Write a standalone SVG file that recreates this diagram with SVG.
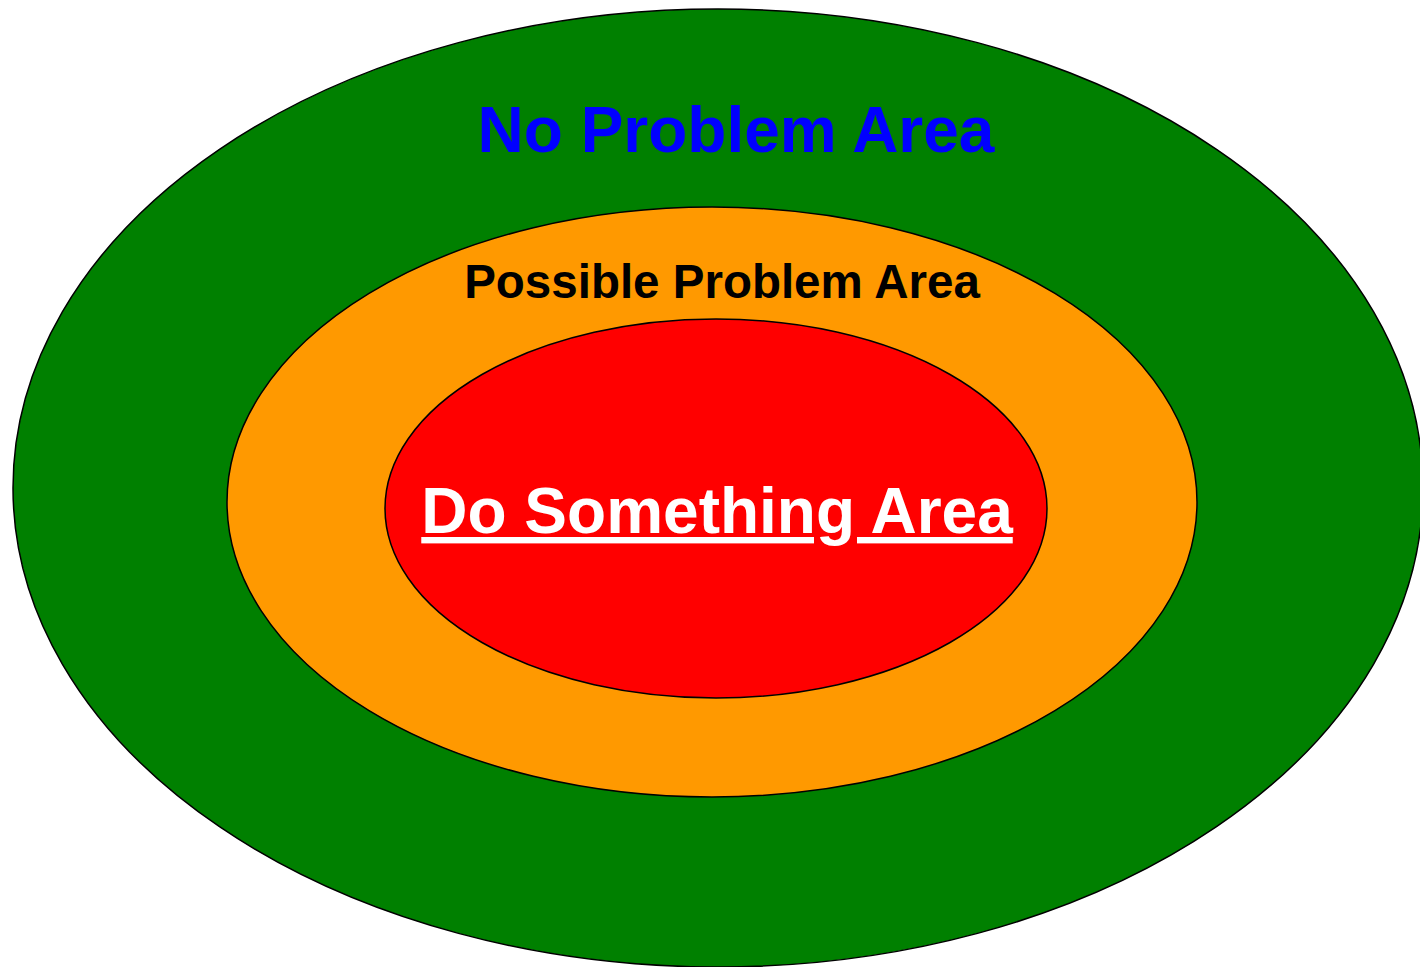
<svg xmlns="http://www.w3.org/2000/svg" width="1420" height="967" viewBox="0 0 1420 967">
<style>
.zone{stroke:#000;stroke-width:1.5}
.lbl{font-family:"Liberation Sans",Arial,sans-serif;font-weight:bold;text-anchor:middle}
</style>
<rect width="1420" height="967" fill="#fff"/>
<g id="no-problem">
<ellipse class="zone" cx="718" cy="488" rx="705" ry="479" fill="#008000"/>
<text class="lbl" x="736" y="152" font-size="64" fill="#0000FF">No Problem Area</text>
</g>
<g id="possible-problem">
<ellipse class="zone" cx="712" cy="502" rx="485" ry="295" fill="#FF9900"/>
<text class="lbl" x="722" y="298" font-size="47.5" fill="#000">Possible Problem Area</text>
</g>
<g id="do-something">
<ellipse class="zone" cx="716" cy="508.5" rx="331" ry="189.5" fill="#FF0000"/>
<text class="lbl" x="717" y="533" font-size="64" fill="#fff" text-decoration="underline">Do Something Area</text>
</g>
<g id="connectors"/>
</svg>
